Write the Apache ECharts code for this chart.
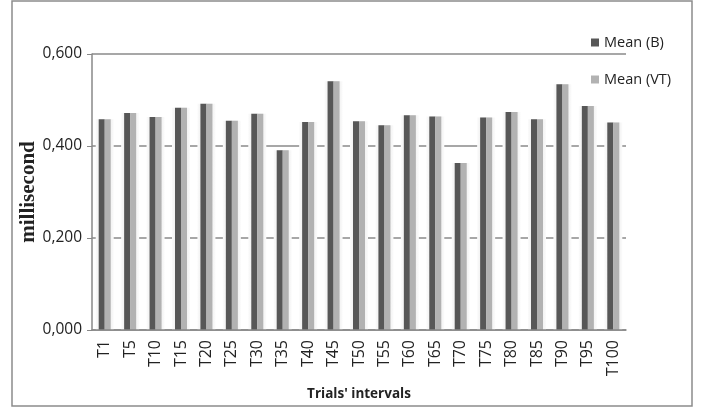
<!DOCTYPE html>
<html>
<head>
<meta charset="utf-8">
<script src="https://cdn.jsdelivr.net/npm/echarts@6/dist/echarts.min.js"></script>
<style>
  html, body { margin: 0; padding: 0; background: #fff; }
  #chart { width: 704px; height: 408px; }
</style>
</head>
<body>
<div id="chart"></div>
<script>
// trial intervals on the x axis
const trials = ['T1', 'T5', 'T10', 'T15', 'T20', 'T25', 'T30', 'T35', 'T40', 'T45', 'T50',
  'T55', 'T60', 'T65', 'T70', 'T75', 'T80', 'T85', 'T90', 'T95', 'T100'];

// mean response time, both conditions almost identical
const meanB = [0.458, 0.472, 0.463, 0.483, 0.492, 0.455, 0.470, 0.391, 0.452, 0.541, 0.454,
  0.445, 0.467, 0.464, 0.363, 0.462, 0.474, 0.458, 0.534, 0.487, 0.451];
const meanVT = [0.458, 0.472, 0.463, 0.483, 0.492, 0.455, 0.470, 0.391, 0.452, 0.541, 0.454,
  0.445, 0.467, 0.464, 0.363, 0.462, 0.474, 0.458, 0.534, 0.487, 0.451];

const yTicks = [0, 0.2, 0.4, 0.6];

const chart = echarts.init(document.getElementById('chart'));

const labelFont = "'Open Sans', sans-serif";

// soft light column behind each pair of bars (hides the gridlines like the original glow)
const halo = meanB.map((v, i) => Math.max(v, meanVT[i]));

chart.setOption({
  animation: false,
  backgroundColor: '#fff',
  graphic: [{
    type: 'rect',
    shape: { x: 12, y: 1, width: 680, height: 405 },
    style: { fill: 'none', stroke: '#8c8c8c', lineWidth: 1.5 }
  }],
  legend: {
    orient: 'vertical',
    left: 586,
    top: 30,
    itemWidth: 8,
    itemHeight: 8,
    itemGap: 22,
    icon: 'rect',
    textStyle: { fontFamily: labelFont, fontSize: 14.5, color: '#222' },
    data: ['Mean (B)', 'Mean (VT)']
  },
  grid: { left: 92, right: 78, top: 54, bottom: 78 },
  xAxis: [{
    type: 'category',
    data: trials,
    z: 5,
    name: "Trials' intervals",
    nameLocation: 'middle',
    nameGap: 57,
    nameMoveOverlap: false,
    nameTextStyle: { fontFamily: labelFont, fontWeight: 'bold', fontSize: 13.5, color: '#222' },
    axisLine: { lineStyle: { color: '#888', width: 1.5 } },
    axisTick: { show: false },
    axisLabel: { rotate: 90, fontFamily: labelFont, fontSize: 16, color: '#222', margin: 10, interval: 0 }
  }, {
    type: 'category',
    data: trials,
    show: false
  }],
  yAxis: {
    type: 'value',
    min: 0,
    max: yTicks[yTicks.length - 1],
    interval: 0.2,
    name: 'millisecond',
    nameLocation: 'middle',
    nameGap: 53,
    nameMoveOverlap: false,
    nameTextStyle: { fontFamily: "'Liberation Serif', serif", fontWeight: 'bold', fontSize: 21, color: '#222' },
    axisLine: { show: true, lineStyle: { color: '#888', width: 1.5 } },
    axisTick: { show: true, length: 5, lineStyle: { color: '#888' } },
    axisLabel: {
      fontFamily: labelFont, fontSize: 15.5, color: '#222', margin: 10,
      formatter: v => v.toFixed(3).replace('.', ',')
    },
    splitLine: { lineStyle: { color: '#8a8a8a', width: 1.5 } }
  },
  series: [
    {
      name: 'halo',
      type: 'bar',
      xAxisIndex: 1,
      data: halo,
      barWidth: 18,
      z: 1,
      silent: true,
      itemStyle: {
        color: new echarts.graphic.LinearGradient(0, 0, 1, 0, [
          { offset: 0, color: '#fbfbfb' },
          { offset: 0.3, color: '#ececec' },
          { offset: 0.7, color: '#ececec' },
          { offset: 1, color: '#fbfbfb' }
        ])
      }
    },
    {
      name: 'Mean (B)',
      type: 'bar',
      data: meanB,
      barWidth: 6,
      barGap: '0%',
      z: 3,
      itemStyle: { color: '#575757' }
    },
    {
      name: 'Mean (VT)',
      type: 'bar',
      data: meanVT,
      barWidth: 6,
      barGap: '0%',
      z: 3,
      itemStyle: { color: '#b2b2b2' }
    }
  ]
});
</script>
</body>
</html>
